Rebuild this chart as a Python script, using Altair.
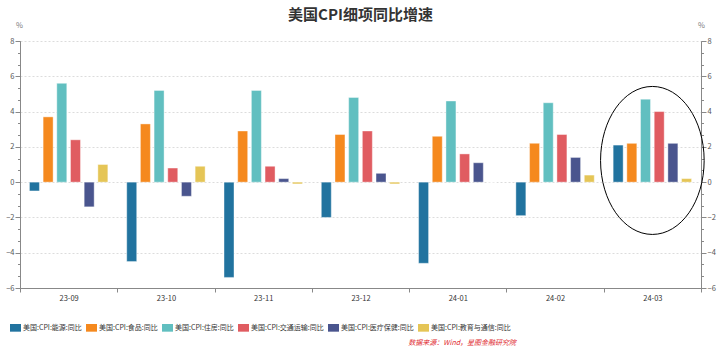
import altair as alt
import pandas as pd

months = ["23-09", "23-10", "23-11", "23-12", "24-01", "24-02", "24-03"]
series = ["美国:CPI:能源:同比", "美国:CPI:食品:同比", "美国:CPI:住房:同比",
          "美国:CPI:交通运输:同比", "美国:CPI:医疗保健:同比", "美国:CPI:教育与通信:同比"]
energy = [-0.5, -4.5, -5.4, -2.0, -4.6, -1.9, 2.1]
food = [3.7, 3.3, 2.9, 2.7, 2.6, 2.2, 2.2]
shelter = [5.6, 5.2, 5.2, 4.8, 4.6, 4.5, 4.7]
transport = [2.4, 0.8, 0.9, 2.9, 1.6, 2.7, 4.0]
medical = [-1.4, -0.8, 0.2, 0.5, 1.1, 1.4, 2.2]
education = [1.0, 0.9, -0.1, -0.1, 0.0, 0.4, 0.2]
colors = ["#21739f", "#f5891e", "#61bfc0", "#e05c61", "#4a558e", "#e5c556"]
major_ticks = [-6, -4, -2, 0, 2, 4, 6, 8]
minor_ticks = [round(-6 + i * 2 / 3, 4) for i in range(22)]
title_text = "美国CPI细项同比增速"
source_text = "数据来源：Wind，星图金融研究院"
highlight_month = "24-03"
highlight_center = 1.23

rows = []
for s, vals in zip(series, [energy, food, shelter, transport, medical, education]):
    for m, v in zip(months, vals):
        rows.append({"month": m, "series": s, "value": v})
df = pd.DataFrame(rows)

FONT = "Noto Sans CJK SC"

x_enc = alt.X("month:N", sort=months, title=None,
              scale=alt.Scale(paddingInner=0, paddingOuter=0),
              axis=alt.Axis(tickBand="extent", labelAngle=0, labelFontSize=7.5,
                            labelColor="#333", domainColor="#888", tickColor="#888",
                            tickSize=4, labelPadding=2, labelFont=FONT))
xoff = alt.XOffset("series:N", sort=series,
                   scale=alt.Scale(paddingInner=0.27, paddingOuter=0.69))
yscale = alt.Scale(domain=[-6, 8], nice=False, zero=False)

def yaxis(orient, values, labels, grid, tick):
    kw = dict(orient=orient, values=values, labels=labels, grid=grid,
              domainColor="#888", tickColor="#888", tickSize=tick,
              labelFontSize=7.5, labelColor="#555", labelPadding=1, labelFont=FONT)
    if grid:
        kw.update(gridColor="#dcdcdc", gridDash=[2, 2], gridWidth=1)
    if labels:
        kw.update(title="%", titleAngle=0, titleFontSize=7.5, titleColor="#777",
                  titleFontWeight="normal", titleY=-12,
                  titleX=(-1 if orient == "left" else 0), titleAlign="center",
                  titleFont=FONT)
    else:
        kw.update(title=None, domain=False)
    return alt.Axis(**kw)

bars = alt.Chart(df).mark_bar(stroke="white", strokeWidth=0.8, strokeOpacity=0.5).encode(
    x=x_enc, xOffset=xoff,
    y=alt.Y("value:Q", scale=yscale, axis=yaxis("left", major_ticks, True, True, 5)),
    color=alt.Color("series:N", sort=series,
                    scale=alt.Scale(domain=series, range=colors),
                    legend=alt.Legend(title=None, orient="none", direction="horizontal",
                                      columns=6, legendX=-10, legendY=281,
                                      symbolType="M -1 -0.7 H 1 V 0.7 H -1 Z",
                                      symbolSize=121, symbolStrokeWidth=0,
                                      labelFontSize=7, labelColor="#333",
                                      labelFont=FONT, labelOffset=2, columnPadding=4)),
)

def ghost(orient, values, labels, grid, tick):
    return alt.Chart(df).mark_bar(opacity=0).encode(
        x=x_enc, xOffset=xoff,
        y=alt.Y("value:Q", scale=yscale, axis=yaxis(orient, values, labels, grid, tick)),
    )

left_minor = ghost("left", minor_ticks, False, False, 2.5)
right_major = ghost("right", major_ticks, True, False, 5)
right_minor = ghost("right", minor_ticks, False, False, 2.5)

ell_df = pd.DataFrame({"month": [highlight_month], "value": [highlight_center]})
ellipse = alt.Chart(ell_df).mark_point(
    shape="M -0.7 0 A 0.7 1 0 1 1 0.7 0 A 0.7 1 0 1 1 -0.7 0 Z",
    filled=False, stroke="black", strokeWidth=1, size=21904, opacity=1,
).encode(x=x_enc,
         y=alt.Y("value:Q", scale=yscale, axis=None))

src_df = pd.DataFrame({"t": [source_text]})
source = alt.Chart(src_df).mark_text(
    align="right", baseline="middle", fontStyle="italic", fontSize=7,
    color="#e0282e", font=FONT,
).encode(text="t:N", x=alt.value(496), y=alt.value(302))

chart = alt.layer(bars, left_minor, right_major, right_minor, ellipse, source).resolve_scale(
    y="shared", x="shared"
).resolve_axis(y="independent").properties(
    width=681, height=247,
    autosize=alt.AutoSizeParams(type="none"),
    padding={"left": 20, "top": 41, "right": 19, "bottom": 69},
    title=alt.TitleParams(title_text, fontSize=15, fontWeight="bold", color="#333",
                          anchor="middle", font=FONT, offset=-2),
).configure_view(stroke=None)

chart.save("out.html", embed_options={"renderer": "svg", "actions": False})
